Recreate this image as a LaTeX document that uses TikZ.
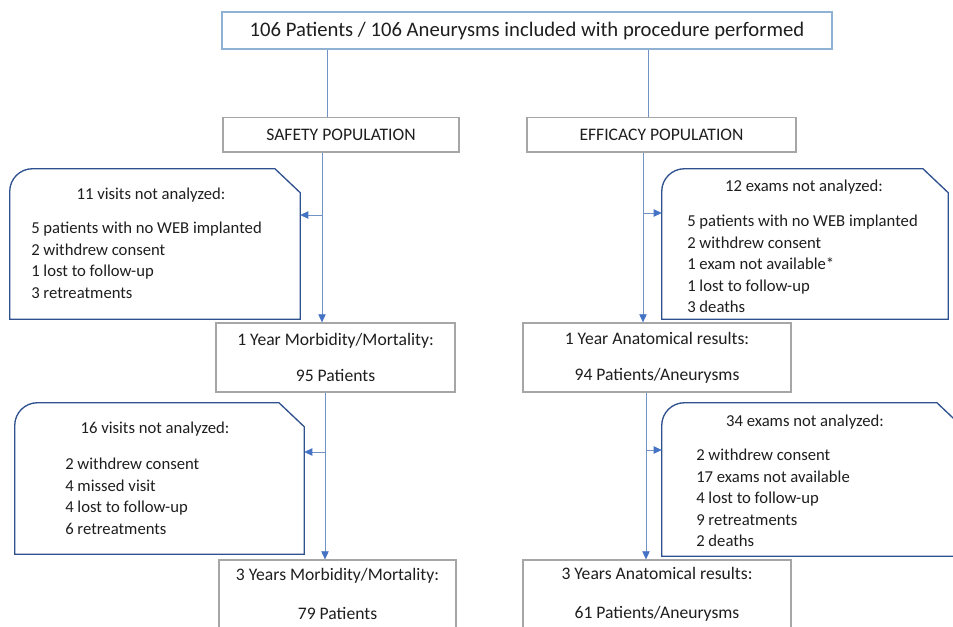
\documentclass[tikz,border=0pt]{standalone}
\usepackage{fontspec}
\setmainfont{Carlito}
\usetikzlibrary{arrows.meta,positioning}
\definecolor{topline}{RGB}{143,178,212}
\definecolor{boxline}{RGB}{166,166,166}
\definecolor{noteline}{RGB}{47,82,143}
\definecolor{linkline}{RGB}{112,146,196}
\definecolor{tipblue}{RGB}{68,114,196}
\definecolor{txt}{RGB}{30,30,30}
\newcommand{\noteshape}[1]{%
  \draw[noteline, line width=1pt] (#1.south west) -- ([yshift=-17pt]#1.north west)
    arc[start angle=180, end angle=90, radius=17pt]
    -- ([xshift=-19pt]#1.north east) -- ([yshift=-18pt]#1.north east)
    -- (#1.south east) -- cycle;}

\begin{document}
\begin{tikzpicture}[%
        x=0.75pt, y=-0.75pt,
        every node/.style={inner sep=0pt, text=txt},
        topbox/.style={rectangle, draw=topline, line width=1pt, minimum width=457.5pt, minimum height=27.75pt, font=\fontsize{15.5}{18}\selectfont},
        popbox/.style={rectangle, draw=boxline, line width=1pt, minimum height=26pt, font=\fontsize{13.2}{15}\selectfont},
        resbox/.style={rectangle, draw=boxline, line width=1pt, align=center, font=\fontsize{13.2}{27}\selectfont},
        notebox/.style={rectangle},
        notehead/.style={font=\fontsize{12.5}{15}\selectfont},
        notelist/.style={anchor=north west, align=left, font=\fontsize{12.5}{16.1}\selectfont},
        link/.style={draw=linkline, line width=0.6pt},
        >={Triangle[length=6pt, width=5.5pt, color=tipblue]}
      ]
      \useasboundingbox (0,0) rectangle (953,626);
      \clip (0,0) rectangle (953,626);
      \node (0) [topbox] at (527,30.5) {106 Patients / 106 Aneurysms included with procedure performed};
      \node (1) [popbox, minimum width=177pt] at (341,134.5) {SAFETY POPULATION};
      \node (2) [popbox, minimum width=201.75pt] at (661.5,134.5) {EFFICACY POPULATION};
      \node (3) [resbox, minimum width=179.25pt, minimum height=51.75pt] at (335.5,357.5) {1 Year Morbidity/Mortality:\\95 Patients};
      \node (4) [resbox, minimum width=201pt, minimum height=51.75pt] at (657,357.5) {1 Year Anatomical results:\\94 Patients/Aneurysms};
      \node (5) [resbox, minimum width=177.75pt, minimum height=51pt, font=\fontsize{13.2}{29}\selectfont] at (337.5,594) {3 Years Morbidity/Mortality:\\79 Patients};
      \node (6) [resbox, minimum width=201pt, minimum height=51pt, font=\fontsize{13.2}{29}\selectfont] at (657,594) {3 Years Anatomical results:\\61 Patients/Aneurysms};

      \node (7) [notebox, minimum width=217.5pt, minimum height=112.5pt] at (155,244) {};
      \node (8) [notebox, minimum width=214.5pt, minimum height=112.5pt] at (805,244) {};
      \node (9) [notebox, minimum width=216.75pt, minimum height=113.25pt] at (159.5,478.5) {};
      \node (10) [notebox, minimum width=225pt, minimum height=114.75pt] at (812,479.5) {};
      \noteshape{7}
      \noteshape{8}
      \noteshape{9}
      \noteshape{10}

      \node (7a) [notehead] at (151,195) {11 visits not analyzed:};
      \node (7b) [notelist] at (31,222) {5 patients with no WEB implanted\\2 withdrew consent\\1 lost to follow-up\\3 retreatments};
      \node (8a) [notehead] at (804,187) {12 exams not analyzed:};
      \node (8b) [notelist] at (687,215) {5 patients with no WEB implanted\\2 withdrew consent\\1 exam not available*\\1 lost to follow-up\\3 deaths};
      \node (9a) [notehead] at (155,429) {16 visits not analyzed:};
      \node (9b) [notelist] at (65,458) {2 withdrew consent\\4 missed visit\\4 lost to follow-up\\6 retreatments};
      \node (10a) [notehead] at (805,422) {34 exams not analyzed:};
      \node (10b) [notelist] at (696,449) {2 withdrew consent\\17 exams not available\\4 lost to follow-up\\9 retreatments\\2 deaths};

      \coordinate (t1) at (327,0);
      \coordinate (t2) at (648,0);
      \coordinate (s1) at (322,0);
      \coordinate (s2) at (325,0);
      \coordinate (e1) at (643,0);
      \coordinate (e2) at (646,0);
      \coordinate (b7) at (322,215);
      \coordinate (b8) at (643,213);
      \coordinate (b9) at (325,452);
      \coordinate (b10) at (646,450);
      \path [link] (0.south -| t1) edge (1.north -| t1)
      (0.south -| t2) edge (2.north -| t2)
      (1.south -| s1) edge[->] (3.north -| s1)
      (2.south -| e1) edge[->] (4.north -| e1)
      (3.south -| s2) edge[->] (5.north -| s2)
      (4.south -| e2) edge[->] (6.north -| e2)
      (b7) edge[->] (b7 -| 7.east)
      (b8) edge[->] (b8 -| 8.west)
      (b9) edge[->] (b9 -| 9.east)
      (b10) edge[->] (b10 -| 10.west);
     \end{tikzpicture}
\end{document}
